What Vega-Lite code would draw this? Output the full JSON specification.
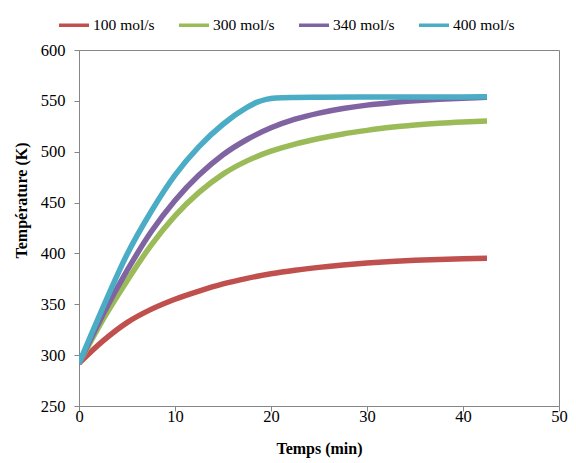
{
  "$schema": "https://vega.github.io/schema/vega-lite/v6.json",
  "autosize": "none",
  "width": 480,
  "height": 356,
  "padding": {"left": 79, "top": 50, "right": 17, "bottom": 57},
  "background": "white",
  "config": {
    "view": {"stroke": "#868686", "strokeWidth": 1},
    "font": "Liberation Serif"
  },
  "datasets": {
    "curves": [
      {"t": 0, "T": 292, "s": "100 mol/s"}, {"t": 2.5, "T": 314, "s": "100 mol/s"}, {"t": 5, "T": 332, "s": "100 mol/s"}, {"t": 7.5, "T": 345, "s": "100 mol/s"}, {"t": 10, "T": 355, "s": "100 mol/s"}, {"t": 12.5, "T": 363, "s": "100 mol/s"}, {"t": 15, "T": 370, "s": "100 mol/s"}, {"t": 17.5, "T": 375.5, "s": "100 mol/s"}, {"t": 20, "T": 380, "s": "100 mol/s"}, {"t": 22.5, "T": 383.5, "s": "100 mol/s"}, {"t": 25, "T": 386.3, "s": "100 mol/s"}, {"t": 27.5, "T": 388.6, "s": "100 mol/s"}, {"t": 30, "T": 390.5, "s": "100 mol/s"}, {"t": 32.5, "T": 392, "s": "100 mol/s"}, {"t": 35, "T": 393.2, "s": "100 mol/s"}, {"t": 37.5, "T": 394.1, "s": "100 mol/s"}, {"t": 40, "T": 394.8, "s": "100 mol/s"}, {"t": 42.5, "T": 395.3, "s": "100 mol/s"},
      {"t": 0, "T": 292, "s": "300 mol/s"}, {"t": 2.5, "T": 335, "s": "300 mol/s"}, {"t": 5, "T": 373, "s": "300 mol/s"}, {"t": 7.5, "T": 408, "s": "300 mol/s"}, {"t": 10, "T": 437, "s": "300 mol/s"}, {"t": 12.5, "T": 460, "s": "300 mol/s"}, {"t": 15, "T": 478, "s": "300 mol/s"}, {"t": 17.5, "T": 491, "s": "300 mol/s"}, {"t": 20, "T": 500.5, "s": "300 mol/s"}, {"t": 22.5, "T": 507.5, "s": "300 mol/s"}, {"t": 25, "T": 513, "s": "300 mol/s"}, {"t": 27.5, "T": 517.5, "s": "300 mol/s"}, {"t": 30, "T": 521, "s": "300 mol/s"}, {"t": 32.5, "T": 524, "s": "300 mol/s"}, {"t": 35, "T": 526.2, "s": "300 mol/s"}, {"t": 37.5, "T": 528, "s": "300 mol/s"}, {"t": 40, "T": 529.3, "s": "300 mol/s"}, {"t": 42.5, "T": 530.3, "s": "300 mol/s"},
      {"t": 0, "T": 292, "s": "340 mol/s"}, {"t": 2.5, "T": 340, "s": "340 mol/s"}, {"t": 5, "T": 383, "s": "340 mol/s"}, {"t": 7.5, "T": 421, "s": "340 mol/s"}, {"t": 10, "T": 452, "s": "340 mol/s"}, {"t": 12.5, "T": 477, "s": "340 mol/s"}, {"t": 15, "T": 497, "s": "340 mol/s"}, {"t": 17.5, "T": 512, "s": "340 mol/s"}, {"t": 20, "T": 523.5, "s": "340 mol/s"}, {"t": 22.5, "T": 532, "s": "340 mol/s"}, {"t": 25, "T": 538, "s": "340 mol/s"}, {"t": 27.5, "T": 542.5, "s": "340 mol/s"}, {"t": 30, "T": 545.8, "s": "340 mol/s"}, {"t": 32.5, "T": 548.2, "s": "340 mol/s"}, {"t": 35, "T": 550, "s": "340 mol/s"}, {"t": 37.5, "T": 551.5, "s": "340 mol/s"}, {"t": 40, "T": 552.6, "s": "340 mol/s"}, {"t": 42.5, "T": 553.5, "s": "340 mol/s"},
      {"t": 0, "T": 292, "s": "400 mol/s"}, {"t": 2.5, "T": 347, "s": "400 mol/s"}, {"t": 5, "T": 399, "s": "400 mol/s"}, {"t": 7.5, "T": 441, "s": "400 mol/s"}, {"t": 10, "T": 477, "s": "400 mol/s"}, {"t": 12.5, "T": 505, "s": "400 mol/s"}, {"t": 15, "T": 527, "s": "400 mol/s"}, {"t": 17.5, "T": 543.5, "s": "400 mol/s"}, {"t": 18.5, "T": 548.5, "s": "400 mol/s"}, {"t": 19.5, "T": 551.5, "s": "400 mol/s"}, {"t": 20.5, "T": 552.8, "s": "400 mol/s"}, {"t": 22.5, "T": 553.3, "s": "400 mol/s"}, {"t": 25, "T": 553.5, "s": "400 mol/s"}, {"t": 30, "T": 553.7, "s": "400 mol/s"}, {"t": 35, "T": 553.8, "s": "400 mol/s"}, {"t": 40, "T": 553.9, "s": "400 mol/s"}, {"t": 42.5, "T": 554, "s": "400 mol/s"}
    ]
  },
  "data": {"name": "curves"},
  "mark": {"type": "line", "strokeWidth": 5.5, "interpolate": "monotone", "clip": true},
  "encoding": {
    "x": {
      "field": "t", "type": "quantitative",
      "scale": {"domain": [0, 50], "nice": false, "zero": false},
      "axis": {
        "title": "Temps (min)", "values": [0, 10, 20, 30, 40, 50], "grid": false,
        "domainColor": "#868686", "tickColor": "#868686", "tickSize": 5,
        "labelFont": "Liberation Serif", "labelFontSize": 16.5, "labelColor": "black",
        "labelBaseline": "alphabetic", "labelPadding": 10.5, "labelFlush": false,
        "titleFont": "Liberation Serif", "titleFontSize": 16, "titleFontWeight": "bold", "titleColor": "black",
        "titleBaseline": "alphabetic", "titleY": 47
      }
    },
    "y": {
      "field": "T", "type": "quantitative",
      "scale": {"domain": [250, 600], "nice": false, "zero": false},
      "axis": {
        "title": "Température (K)", "values": [250, 300, 350, 400, 450, 500, 550, 600], "grid": false,
        "domainColor": "#868686", "tickColor": "#868686", "tickSize": 5,
        "labelFont": "Liberation Serif", "labelFontSize": 16.5, "labelColor": "black",
        "labelPadding": 9, "labelFlush": false,
        "titleFont": "Liberation Serif", "titleFontSize": 16, "titleFontWeight": "bold", "titleColor": "black",
        "titleBaseline": "middle", "titleX": -57.5, "titleY": 150, "titleAngle": 270
      }
    },
    "color": {
      "field": "s", "type": "nominal",
      "scale": {"domain": ["100 mol/s", "300 mol/s", "340 mol/s", "400 mol/s"], "range": ["#C0504D", "#9BBB59", "#8064A2", "#4BACC6"]},
      "legend": {
        "title": null, "orient": "none", "direction": "horizontal",
        "legendX": -22, "legendY": -42,
        "symbolType": "stroke", "symbolSize": 900, "symbolStrokeWidth": 3.5,
        "labelFont": "Liberation Serif", "labelFontSize": 15.5, "labelColor": "black",
        "labelOffset": 2, "columnPadding": 17
      }
    }
  }
}
